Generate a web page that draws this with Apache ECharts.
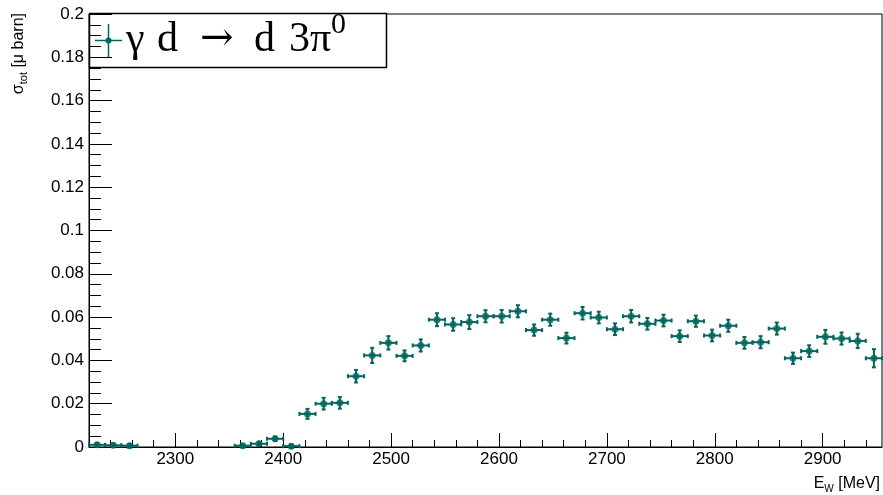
<!DOCTYPE html>
<html>
<head>
<meta charset="utf-8">
<script src="https://cdn.jsdelivr.net/npm/echarts@6/dist/echarts.min.js"></script>
<style>
  html, body { margin: 0; padding: 0; background: #fff; }
  #chart { width: 883px; height: 495px; }
</style>
</head>
<body>
<div id="chart"></div>
<script>
// bin centres [MeV], 15 MeV bins starting at 2220
const energies = [2227.5, 2242.5, 2257.5, 2362.5, 2377.5, 2392.5, 2407.5, 2422.5, 2437.5, 2452.5,
  2467.5, 2482.5, 2497.5, 2512.5, 2527.5, 2542.5, 2557.5, 2572.5, 2587.5, 2602.5,
  2617.5, 2632.5, 2647.5, 2662.5, 2677.5, 2692.5, 2707.5, 2722.5, 2737.5, 2752.5,
  2767.5, 2782.5, 2797.5, 2812.5, 2827.5, 2842.5, 2857.5, 2872.5, 2887.5, 2902.5,
  2917.5, 2932.5, 2947.5];
// total cross section [µb]
const xsec = [0.0010, 0.0008, 0.0006, 0.0006, 0.0015, 0.0038, 0.0004, 0.0153, 0.0200, 0.0204,
  0.0327, 0.0423, 0.0481, 0.0421, 0.0469, 0.0588, 0.0566, 0.0577, 0.0604, 0.0604,
  0.0627, 0.0540, 0.0588, 0.0503, 0.0618, 0.0598, 0.0544, 0.0604, 0.0569, 0.0584,
  0.0512, 0.0581, 0.0515, 0.0560, 0.0481, 0.0484, 0.0547, 0.0410, 0.0443, 0.0509,
  0.0501, 0.0490, 0.0410];
const xsecErr = [0.0008, 0.0008, 0.0008, 0.0008, 0.0009, 0.0010, 0.0008, 0.0023, 0.0027, 0.0027,
  0.0029, 0.0035, 0.0031, 0.0025, 0.0028, 0.0030, 0.0029, 0.0032, 0.0028, 0.0029,
  0.0028, 0.0026, 0.0028, 0.0025, 0.0029, 0.0027, 0.0027, 0.0029, 0.0027, 0.0027,
  0.0027, 0.0026, 0.0027, 0.0028, 0.0027, 0.0028, 0.0028, 0.0026, 0.0027, 0.0032,
  0.0028, 0.0033, 0.0042];
const halfBin = 7.5;

const xMajorTicks = [2300, 2400, 2500, 2600, 2700, 2800, 2900];
const xMinorTicks = [2220, 2240, 2260, 2280, 2300, 2320, 2340, 2360, 2380, 2400, 2420, 2440,
  2460, 2480, 2500, 2520, 2540, 2560, 2580, 2600, 2620, 2640, 2660, 2680, 2700, 2720,
  2740, 2760, 2780, 2800, 2820, 2840, 2860, 2880, 2900, 2920, 2940];

const teal = '#00665e';
const font = 'Liberation Sans';
const serif = '42px "Liberation Serif"';

const chart = echarts.init(document.getElementById('chart'));

const points = energies.map((e, i) => [e, xsec[i], xsecErr[i]]);

function renderErr(params, api) {
  const x = api.value(0), y = api.value(1), err = api.value(2);
  const l = api.coord([x - halfBin, y]);
  const r = api.coord([x + halfBin, y]);
  const t = api.coord([x, y + err]);
  const b = api.coord([x, y - err]);
  const cap = 2;
  const st = { stroke: teal, lineWidth: 2 };
  const seg = (x1, y1, x2, y2) => ({ type: 'line', shape: { x1, y1, x2, y2 }, style: st });
  return {
    type: 'group',
    children: [
      seg(l[0], l[1], r[0], r[1]),
      seg(t[0], t[1], b[0], b[1]),
      seg(l[0], l[1] - cap, l[0], l[1] + cap),
      seg(r[0], r[1] - cap, r[0], r[1] + cap),
      seg(t[0] - cap, t[1], t[0] + cap, t[1]),
      seg(b[0] - cap, b[1], b[0] + cap, b[1])
    ]
  };
}

// legend label pieces (TLatex-like spacing)
const legendText = (text, x, y, f) => ({
  type: 'text', x: x, y: y,
  style: { text: text, font: f || serif, fill: '#000', verticalAlign: 'middle' }
});

const option = {
  animation: false,
  backgroundColor: '#fff',
  grid: {
    left: 89, right: 1, top: 14, bottom: 48,
    show: true, borderColor: '#000', borderWidth: 1, backgroundColor: 'transparent'
  },
  xAxis: [
    {
      type: 'value', min: 2220, max: 2955,
      axisLine: { show: true, lineStyle: { color: '#000', width: 1 } },
      axisTick: { show: true, inside: true, length: 14, customValues: xMajorTicks, lineStyle: { color: '#000', width: 1 } },
      axisLabel: {
        customValues: xMajorTicks, color: '#000', fontFamily: font, fontSize: 17, margin: 4,
        formatter: v => String(v)
      },
      splitLine: { show: false }
    },
    {
      type: 'value', min: 2220, max: 2955, position: 'bottom',
      axisLine: { show: false },
      axisTick: { show: true, inside: true, length: 7, customValues: xMinorTicks, lineStyle: { color: '#000', width: 1 } },
      axisLabel: { show: false },
      splitLine: { show: false }
    }
  ],
  yAxis: {
    type: 'value', min: 0, max: 0.2, interval: 0.02,
    axisLine: { show: true, lineStyle: { color: '#000', width: 1 } },
    axisTick: { show: true, inside: true, length: 23, lineStyle: { color: '#000', width: 1 } },
    minorTick: { show: true, splitNumber: 4, length: 12, lineStyle: { color: '#000', width: 1 } },
    axisLabel: {
      color: '#000', fontFamily: font, fontSize: 17, margin: 5,
      formatter: v => String(+v.toFixed(2))
    },
    splitLine: { show: false }
  },
  series: [
    {
      type: 'custom',
      renderItem: renderErr,
      data: points,
      encode: { x: 0, y: 1 },
      clip: false,
      z: 2
    },
    {
      type: 'scatter',
      data: points.map(p => [p[0], p[1]]),
      symbol: 'circle',
      symbolSize: 7,
      itemStyle: { color: teal },
      z: 3
    }
  ],
  graphic: [
    {
      type: 'group', z: 10,
      children: [
        { type: 'rect', shape: { x: 89.5, y: 13.5, width: 297, height: 54 }, style: { fill: '#fff', stroke: '#000', lineWidth: 1.5 } },
        { type: 'line', shape: { x1: 108.5, y1: 24, x2: 108.5, y2: 57 }, style: { stroke: teal, lineWidth: 1.5 } },
        { type: 'line', shape: { x1: 95, y1: 40.5, x2: 122, y2: 40.5 }, style: { stroke: teal, lineWidth: 1.5 } },
        { type: 'circle', shape: { cx: 108.5, cy: 40.5, r: 3 }, style: { fill: teal } },
        legendText('γ', 126, 39.5),
        legendText('d', 157, 39.5),
        legendText('→', 200, 39.5, '40px "DejaVu Serif"'),
        legendText('d', 254, 39.5),
        legendText('3π', 289, 39.5),
        legendText('0', 331, 25, '30px "Liberation Serif"')
      ]
    },
    {
      type: 'text', x: 19, y: 13, rotation: Math.PI / 2,
      style: {
        text: '{a|σ}{b|tot}{a| [μ barn]}',
        align: 'right', verticalAlign: 'middle',
        rich: {
          a: { fontFamily: font, fontSize: 16, fill: '#000', lineHeight: 20 },
          b: { fontFamily: font, fontSize: 11, fill: '#000', lineHeight: 20, verticalAlign: 'bottom' }
        }
      }
    },
    {
      type: 'text', x: 880, y: 484,
      style: {
        text: '{a|E}{b|W}{a| [MeV]}',
        align: 'right', verticalAlign: 'middle',
        rich: {
          a: { fontFamily: font, fontSize: 16, fill: '#000', lineHeight: 20 },
          b: { fontFamily: font, fontSize: 10, fill: '#000', lineHeight: 20, verticalAlign: 'bottom' }
        }
      }
    }
  ]
};

chart.setOption(option);
</script>
</body>
</html>
